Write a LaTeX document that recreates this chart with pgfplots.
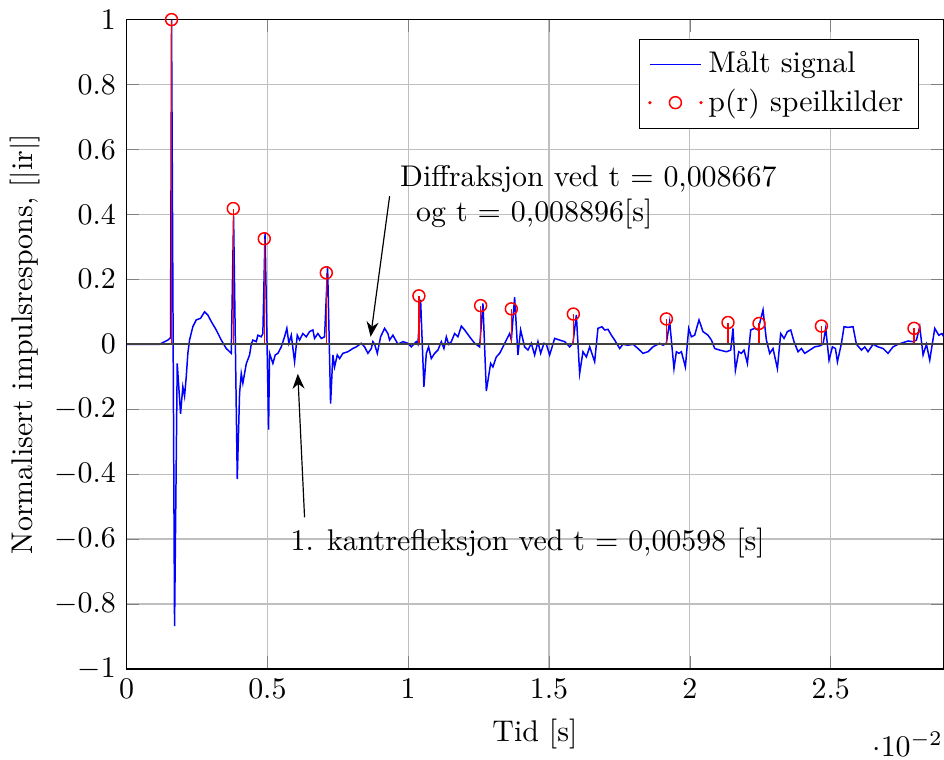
\documentclass[border=0pt]{standalone}
\usepackage{fontspec}
\usepackage{pgfplots}
\pgfplotsset{compat=1.18}
\usetikzlibrary{arrows.meta}

\begin{document}
\begin{tikzpicture}
\begin{axis}[
  scale only axis,
  width=273pt, height=217pt,
  xmin=0, xmax=0.029,
  ymin=-1, ymax=1,
  xtick={0,0.005,0.01,0.015,0.02,0.025},
  ytick={-1,-0.8,...,1},
  scaled x ticks=base 10:2,
  every x tick scale label/.style={at={(rel axis cs:1,0)}, anchor=north east, yshift=-2.1em, inner sep=0pt},
  grid=major,
  xlabel={Tid [s]},
  ylabel={Normalisert impulsrespons, [|ir|]},
  ylabel style={yshift=-2pt},
  legend pos=north east,
  legend cell align=left,
]

% maalt signal
\addplot[blue, line width=0.5pt] table {
0 0
0.001172 0
0.001467 0.013
0.001562 0.02
0.001598 1.0
0.001705 -0.868
0.001800 -0.059
0.001918 -0.214
0.001999 -0.131
0.002060 -0.160
0.002120 -0.100
0.002177 -0.028
0.002237 0.013
0.002354 0.054
0.002475 0.075
0.002628 0.080
0.002770 0.100
0.002887 0.090
0.003008 0.070
0.003185 0.044
0.003363 0.013
0.003540 -0.013
0.003718 -0.028
0.003800 0.394
0.003931 -0.415
0.004013 -0.152
0.004073 -0.090
0.004130 -0.120
0.004251 -0.060
0.004368 -0.033
0.004428 0.0
0.004485 0.013
0.004606 0.008
0.004663 0.028
0.004783 0.023
0.004840 0.033
0.004918 0.343
0.005043 -0.263
0.005078 -0.028
0.005195 -0.059
0.005280 -0.033
0.005373 -0.028
0.005494 -0.008
0.005611 0.023
0.005692 0.049
0.005763 0.003
0.005849 0.028
0.005966 -0.054
0.006062 0.028
0.006143 0.013
0.006261 0.033
0.006381 0.023
0.006499 0.039
0.006616 0.044
0.006676 0.018
0.006793 0.033
0.006914 0.018
0.007031 0.023
0.007138 0.240
0.007244 -0.183
0.007326 -0.033
0.007386 -0.070
0.007482 -0.033
0.007564 -0.044
0.007681 -0.028
0.007859 -0.023
0.008036 -0.013
0.008157 -0.008
0.008334 0.003
0.008452 -0.008
0.008569 -0.028
0.008690 -0.013
0.008746 0.008
0.008807 0.0
0.008903 -0.028
0.009020 0.023
0.009162 0.049
0.009279 0.033
0.009339 0.013
0.009457 0.028
0.009634 0.0
0.009812 0.008
0.009989 0.003
0.010110 -0.008
0.010288 0.008
0.010344 0.0
0.010440 0.137
0.010557 -0.131
0.010643 -0.028
0.010724 -0.008
0.010820 -0.044
0.010937 -0.028
0.011055 -0.018
0.011175 0.008
0.011268 -0.013
0.011353 0.023
0.011435 0.0
0.011530 0.008
0.011648 0.033
0.011765 0.023
0.011886 0.056
0.012003 0.044
0.012180 0.023
0.012358 0.003
0.012535 -0.008
0.012653 0.126
0.012773 -0.144
0.012926 -0.059
0.013008 -0.070
0.013128 -0.039
0.013246 -0.028
0.013363 -0.008
0.013484 0.013
0.013601 0.033
0.013661 0.013
0.013778 0.145
0.013895 -0.033
0.013991 0.044
0.014133 -0.008
0.014251 -0.018
0.014371 0.003
0.014488 -0.033
0.014606 0.008
0.014702 -0.028
0.014819 0.003
0.014904 0.0
0.015021 -0.033
0.015199 0.018
0.015376 0.013
0.015554 0.008
0.015731 -0.008
0.015848 0.003
0.015969 0.090
0.016086 -0.090
0.016204 -0.023
0.016324 -0.039
0.016442 -0.008
0.016619 -0.054
0.016736 0.049
0.016878 0.054
0.016974 0.044
0.017092 0.046
0.017212 0.028
0.017329 0.013
0.017507 -0.013
0.017624 0.0
0.017802 -0.003
0.017979 0.0
0.018157 -0.013
0.018334 -0.028
0.018512 -0.023
0.018689 -0.008
0.018927 0.003
0.019045 -0.003
0.019165 0.003
0.019282 0.070
0.019435 -0.075
0.019520 -0.023
0.019613 -0.028
0.019698 -0.023
0.019840 -0.070
0.019957 0.049
0.020053 0.023
0.020170 0.028
0.020323 0.075
0.020465 0.039
0.020643 0.028
0.020763 0.013
0.020881 -0.013
0.021058 -0.018
0.021296 -0.023
0.021449 -0.018
0.021530 0.049
0.021616 -0.080
0.021733 -0.023
0.021829 -0.028
0.021921 -0.018
0.022042 -0.059
0.022159 0.044
0.022301 0.049
0.022418 0.044
0.022596 0.106
0.022716 0.013
0.022834 -0.028
0.022951 -0.013
0.023107 -0.075
0.023224 0.033
0.023342 0.018
0.023462 0.039
0.023580 0.044
0.023697 0.008
0.023839 -0.023
0.023959 -0.013
0.024077 -0.028
0.024254 -0.018
0.024432 -0.008
0.024609 -0.005
0.024727 0.0
0.024822 0.049
0.024939 -0.049
0.025060 -0.008
0.025167 -0.013
0.025238 -0.054
0.025380 0.003
0.025472 0.054
0.025614 0.052
0.025792 0.054
0.025912 0.0
0.026090 -0.018
0.026207 -0.008
0.026324 -0.023
0.026502 0.0
0.026679 -0.008
0.026857 -0.013
0.027034 -0.028
0.027212 -0.008
0.027390 0.0
0.027567 0.005
0.027745 0.010
0.027922 0.008
0.028043 0.013
0.028160 0.054
0.028278 -0.033
0.028398 0.0
0.028515 -0.049
0.028693 0.049
0.028835 0.028
0.028952 0.033
0.029073 0.013
};
\addlegendentry{Målt signal}

% speilkilder
\addplot[red, ycomb, line width=0.5pt, mark=o, mark size=2pt,
  legend image code/.code={
    \draw[red, mark=o, mark size=2pt] plot coordinates {(0.3cm,0cm)};
    \fill[red] (0cm,0cm) circle (0.25pt);
    \fill[red] (0.6cm,0cm) circle (0.25pt);
  }] table {
0.001598 1.0
0.003789 0.418
0.004890 0.325
0.007092 0.220
0.010380 0.149
0.012571 0.119
0.013661 0.109
0.015863 0.093
0.019165 0.078
0.021353 0.067
0.022454 0.064
0.024670 0.056
0.027958 0.049
};
\addlegendentry{p(r) speilkilder}

\addplot[black!75, line width=0.8pt, forget plot] coordinates {(0,0) (0.029,0)};

\node[anchor=west] at (axis cs:0.00934,0.508) {Diffraksjon ved t = 0,008667};
\node[anchor=west] at (axis cs:0.00991,0.400) {og t = 0,008896[s]};
\draw[-{Stealth[length=5pt,width=4pt]}] (axis cs:0.00934,0.456) -- (axis cs:0.008665,0.023);

\node at (axis cs:0.01424,-0.611) {1. kantrefleksjon ved t = 0,00598 [s]};
\draw[-{Stealth[length=5pt,width=4pt]}] (axis cs:0.00632,-0.533) -- (axis cs:0.00608,-0.091);
\end{axis}
\end{tikzpicture}
\end{document}
